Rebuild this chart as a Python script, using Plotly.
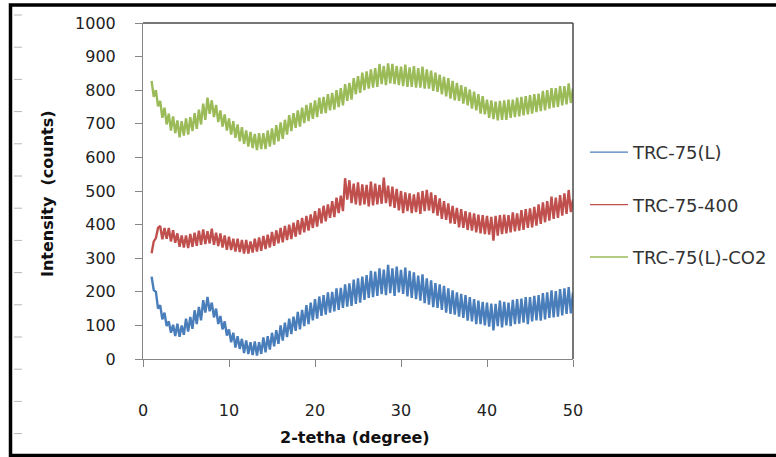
import plotly.graph_objects as go

# ---- data ----
x_start = 1.0
x_step = 0.25
series_names = ["TRC-75(L)", "TRC-75-400", "TRC-75(L)-CO2"]
series_colors = ["#4A7EBB", "#C0504D", "#9BBB59"]

trc75L = [
    245, 205, 200, 150,  160, 118, 138, 98,  112, 78, 102, 68,  105, 66, 100, 72,
    120, 82, 125, 90,  145, 104, 155, 115,  175, 138, 185, 142,  168, 124, 150, 104,
    128, 88, 112, 70,  88, 50, 78, 34,  68, 30, 60, 18,  55, 15, 50, 12,
    52, 10, 50, 15,  64, 20, 68, 28,  78, 38, 86, 45,  100, 55, 108, 65,
    120, 74, 126, 84,  140, 88, 146, 98,  160, 104, 168, 115,  178, 120, 186, 128,
    190, 132, 198, 138,  200, 142, 210, 146,  212, 152, 222, 156,  225, 158, 236, 164,
    240, 168, 245, 176,  250, 182, 262, 184,  260, 188, 270, 193,  266, 190, 280, 196,
    270, 188, 275, 198,  265, 194, 272, 186,  262, 182, 258, 178,  248, 174, 252, 166,
    240, 162, 234, 154,  226, 152, 222, 146,  218, 138, 210, 134,  204, 132, 198, 126,
    194, 122, 190, 114,  184, 112, 178, 104,  174, 104, 170, 100,  168, 96, 165, 85,
    164, 98, 174, 94,  170, 100, 168, 98,  176, 104, 178, 105,  180, 108, 184, 104,
    184, 112, 188, 115,  190, 114, 196, 118,  198, 122, 204, 124,  202, 126, 208, 130,
    210, 134, 214, 136,  198,
]

trc75_400 = [
    315, 350, 360, 390,  396, 356, 390, 358,  390, 350, 383, 346,  374, 334, 368, 332,
    368, 330, 372, 334,  376, 337, 382, 340,  386, 342, 380, 344,  388, 340, 376, 336,
    374, 332, 368, 325,  364, 324, 358, 320,  358, 318, 354, 314,  354, 314, 350, 317,
    358, 320, 362, 322,  366, 327, 370, 332,  378, 337, 383, 344,  390, 347, 396, 354,
    400, 357, 406, 364,  413, 370, 420, 377,  426, 382, 430, 390,  440, 394, 448, 404,
    456, 410, 460, 420,  470, 422, 480, 434,  486, 440, 538, 474,  532, 464, 522, 460,
    526, 457, 520, 460,  518, 454, 528, 457,  522, 460, 518, 462,  540, 464, 516, 454,
    513, 450, 506, 442,  500, 434, 496, 440,  493, 434, 490, 437,  496, 432, 500, 440,
    503, 442, 496, 434,  488, 427, 478, 417,  470, 414, 463, 404,  456, 402, 450, 392,
    446, 390, 440, 384,  436, 382, 433, 377,  430, 374, 428, 372,  426, 370, 423, 352,
    426, 367, 428, 372,  430, 374, 428, 377,  436, 380, 433, 382,  443, 384, 446, 390,
    448, 392, 453, 397,  460, 402, 466, 407,  470, 412, 483, 417,  480, 420, 488, 427,
    493, 432, 503, 437,  475,
]

trc75L_co2 = [
    828, 780, 800, 752,  768, 718, 748, 698,  730, 680, 722, 672,  710, 660, 708, 665,
    716, 668, 720, 678,  732, 685, 742, 698,  760, 712, 778, 730,  770, 720, 756, 705,
    740, 692, 728, 680,  716, 668, 708, 658,  698, 648, 690, 640,  680, 632, 676, 628,
    670, 622, 672, 625,  672, 625, 680, 632,  686, 638, 696, 648,  704, 655, 712, 668,
    726, 678, 732, 688,  740, 692, 748, 702,  756, 708, 762, 715,  770, 720, 778, 730,
    780, 732, 788, 740,  792, 742, 800, 750,  806, 755, 818, 768,  822, 772, 836, 788,
    842, 792, 852, 800,  856, 805, 862, 808,  866, 810, 878, 818,  872, 815, 880, 820,
    878, 818, 872, 815,  870, 812, 876, 810,  868, 810, 872, 808,  866, 808, 870, 805,
    862, 805, 858, 798,  852, 795, 846, 788,  840, 782, 836, 775,  828, 770, 822, 768,
    815, 760, 810, 755,  802, 745, 796, 740,  788, 730, 782, 728,  772, 718, 770, 714,
    766, 710, 768, 712,  770, 712, 772, 718,  772, 720, 778, 722,  780, 725, 782, 728,
    785, 730, 788, 735,  790, 738, 798, 740,  800, 745, 806, 748,  806, 750, 812, 755,
    812, 758, 820, 762,  805,
]

x_ticks = [0, 10, 20, 30, 40, 50]
y_ticks = [0, 100, 200, 300, 400, 500, 600, 700, 800, 900, 1000]
x_title = "2-tetha (degree)"
y_title = "Intensity  (counts)"

# ---- figure ----
W, H = 776, 457
L, R, T, B = 143, 203, 23, 98
PW, PH = W - L - R, H - T - B

def px_x(px):
    return (px - L) / PW

def px_y(py):
    return (H - B - py) / PH

fig = go.Figure()
for name, vals, col in zip(series_names, [trc75L, trc75_400, trc75L_co2], series_colors):
    xs = [x_start + x_step * i for i in range(len(vals))]
    fig.add_trace(go.Scatter(
        x=xs, y=vals, mode="lines", name=name, legendgroup=name, showlegend=False,
        line=dict(color=col, width=2.4),
    ))
    # thin legend-only entry (the legend line in the reference is thin)
    fig.add_trace(go.Scatter(
        x=[None], y=[None], mode="lines", name=name, legendgroup=name, showlegend=True,
        line=dict(color=col, width=1.3),
    ))

axis_font = dict(family="DejaVu Sans", size=16, color="#222222")
fig.update_xaxes(
    range=[0, 50], tickvals=x_ticks, ticks="outside", ticklen=7, tickcolor="#868686",
    showline=True, linecolor="#868686", linewidth=1, showgrid=False, zeroline=False,
    tickfont=axis_font, ticklabelstandoff=30,
)
fig.update_yaxes(
    range=[0, 1000], tickvals=y_ticks, ticks="outside", ticklen=7, tickcolor="#868686",
    showline=True, linecolor="#868686", linewidth=1, showgrid=False, zeroline=False,
    tickfont=axis_font, ticklabelstandoff=16,
)

shapes = []
# plot frame top / right
shapes.append(dict(type="line", xref="paper", yref="paper", x0=0, x1=1, y0=1, y1=1,
                   line=dict(color="#4a4a4a", width=1.5)))
shapes.append(dict(type="line", xref="paper", yref="paper", x0=1, x1=1, y0=0, y1=1,
                   line=dict(color="#4a4a4a", width=1.5)))
# outer thick border
shapes.append(dict(type="rect", xref="paper", yref="paper",
                   x0=px_x(10.5), x1=px_x(800), y0=px_y(455.5), y1=px_y(5),
                   line=dict(color="black", width=3.5)))
# faint marks along the left border
for k in range(14):
    yy = 15 + 32.2 * k
    shapes.append(dict(type="line", xref="paper", yref="paper",
                       x0=px_x(14), x1=px_x(22), y0=px_y(yy), y1=px_y(yy),
                       line=dict(color="#b8b8b8", width=1)))

annotations = [
    dict(text="<b>" + x_title + "</b>", xref="paper", yref="paper",
         x=px_x(355), y=px_y(437), showarrow=False, xanchor="center", yanchor="middle",
         font=dict(family="DejaVu Sans", size=16, color="#111111")),
    dict(text="<b>" + y_title + "</b>", xref="paper", yref="paper",
         x=px_x(47), y=px_y(194), showarrow=False, xanchor="center", yanchor="middle",
         textangle=-90, font=dict(family="DejaVu Sans", size=16, color="#111111")),
]

fig.update_layout(
    width=W, height=H,
    margin=dict(l=L, r=R, t=T, b=B, autoexpand=False),
    paper_bgcolor="white", plot_bgcolor="white",
    shapes=shapes, annotations=annotations,
    showlegend=True,
    legend=dict(
        x=px_x(585), y=px_y(134), xanchor="left", yanchor="top",
        font=dict(family="DejaVu Sans", size=18, color="#333333"),
        itemwidth=38, tracegroupgap=26, bgcolor="rgba(0,0,0,0)",
    ),
)

fig.write_html("out.html")
